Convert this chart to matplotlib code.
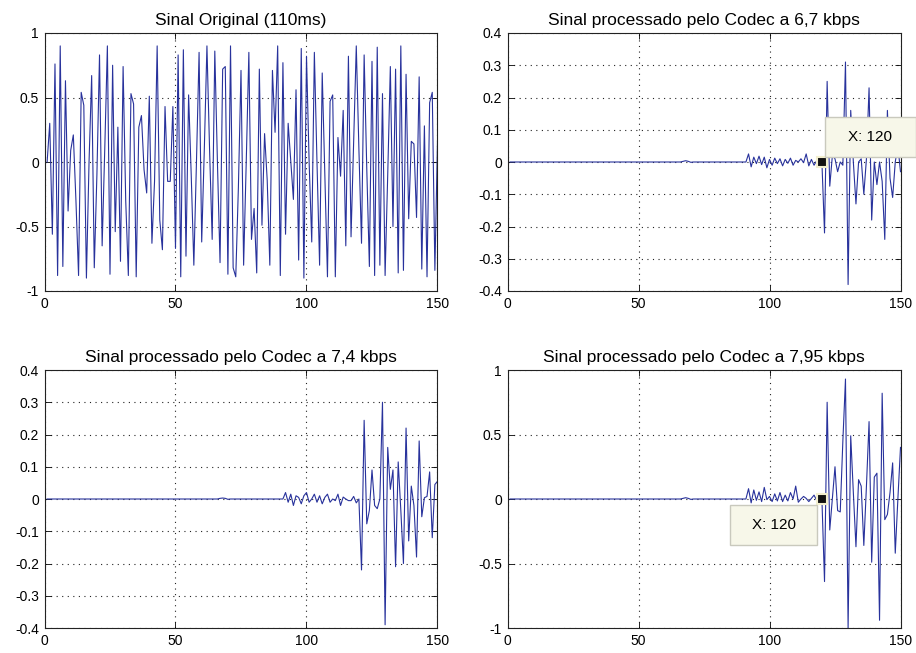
import numpy as np
import matplotlib
matplotlib.use("Agg")
import matplotlib.pyplot as plt
from matplotlib.patches import Rectangle

plt.rcParams['font.family'] = ['Liberation Sans', 'DejaVu Sans']
plt.rcParams['axes.unicode_minus'] = False

# ---------------- data ----------------
titles = ["Sinal Original (110ms)",
          "Sinal processado pelo Codec a 6,7 kbps",
          "Sinal processado pelo Codec a 7,4 kbps",
          "Sinal processado pelo Codec a 7,95 kbps"]

x_ticks = [0, 50, 100, 150]

original = [
    0.00, 0.30, -0.56, 0.76, -0.88, 0.90, -0.81, 0.63, -0.38, 0.09,
    0.21, -0.30, -0.88, 0.54, 0.44, -0.90, 0.00, 0.67, -0.82, -0.10,
    0.83, -0.65, 0.10, 0.90, -0.87, 0.75, -0.54, 0.27, -0.77, 0.74,
    -0.30, -0.88, 0.53, 0.45, -0.89, 0.27, 0.36, -0.06, -0.24, 0.51,
    -0.63, -0.15, 0.90, -0.45, -0.68, 0.43, -0.15, -0.15, 0.43, -0.67,
    0.83, -0.89, 0.87, -0.73, 0.52, -0.10, -0.80, 0.00, 0.85, -0.62,
    0.10, 0.90, 0.10, -0.60, 0.86, 0.00, -0.78, 0.72, 0.74, -0.87,
    0.90, -0.82, -0.89, -0.20, 0.71, -0.80, 0.00, 0.85, -0.60, -0.36,
    -0.86, 0.72, -0.49, 0.22, -0.14, -0.80, 0.71, 0.23, 0.90, -0.88,
    0.77, -0.56, 0.30, 0.00, -0.29, 0.56, -0.76, 0.88, -0.90, 0.82,
    0.00, -0.62, 0.85, 0.00, -0.80, 0.69, -0.10, -0.89, 0.47, 0.52,
    -0.89, 0.19, -0.11, 0.40, -0.65, 0.82, -0.58, 0.15, 0.90, 0.10,
    -0.63, 0.83, -0.05, -0.81, 0.78, -0.88, 0.89, -0.80, 0.53, -0.88,
    -0.10, 0.74, -0.50, 0.72, -0.86, 0.90, -0.84, 0.68, -0.44, 0.16,
    0.14, -0.43, 0.66, -0.83, 0.28, -0.89, 0.46, 0.54, -0.84, 0.16,
]

# codec outputs: samples 1..91 are (almost) silent
quiet_head_67 = [0.0] * 66 + [0.002, 0.004, 0.002, -0.001] + [0.0] * 21
quiet_head_74 = [0.0] * 66 + [0.002, 0.003, 0.002, -0.001] + [0.0] * 21
quiet_head_795 = [0.0] * 66 + [0.005, 0.010, 0.005, -0.003] + [0.0] * 21

codec_67_tail = [
    0.025, -0.015, 0.015, -0.005, 0.018, -0.008, 0.015, -0.018, 0.008, -0.010,   # 92-101
    0.012, -0.005, 0.010, -0.012, 0.008, -0.004, 0.012, -0.010, 0.005, 0.000,    # 102-111
    0.010, -0.002, 0.025, -0.012, 0.008, -0.010, 0.004, -0.002, 0.000,           # 112-120
    -0.22, 0.25, -0.075, 0.02, 0.01, -0.03, 0.00, -0.01, 0.31, -0.38,             # 121-130
    0.16, 0.00, -0.13, 0.00, 0.01, -0.10, 0.01, 0.23, -0.18, 0.00,                # 131-140
    -0.07, 0.00, -0.06, -0.24, 0.16, -0.05, -0.11, 0.00, 0.05, -0.03,             # 141-150
]

codec_74_tail = [
    0.020, -0.010, 0.015, -0.020, 0.010, 0.005, -0.015, 0.010, 0.020, -0.010,    # 92-101
    0.000, 0.015, -0.010, 0.010, -0.015, 0.005, 0.015, -0.010, 0.000, -0.005,    # 102-111
    0.015, -0.020, 0.006, 0.000, -0.005, -0.005, 0.008, -0.012, 0.000,           # 112-120
    -0.22, 0.244, -0.077, -0.035, 0.09, -0.02, -0.03, 0.00, 0.30, -0.39,          # 121-130
    0.16, 0.03, 0.09, -0.21, 0.115, -0.035, -0.20, 0.22, -0.13, 0.04,             # 131-140
    -0.02, -0.18, 0.18, -0.055, 0.004, 0.008, 0.084, -0.12, 0.045, 0.055,         # 141-150
]

codec_795_tail = [
    0.080, -0.030, 0.070, -0.010, 0.055, -0.020, 0.090, -0.005, 0.020, -0.020,   # 92-101
    0.040, -0.015, 0.050, -0.020, 0.030, -0.015, 0.050, 0.000, 0.100, -0.025,    # 102-111
    0.000, 0.020, 0.005, -0.020, 0.005, 0.030, -0.010, 0.010, 0.000,             # 112-120
    -0.64, 0.75, -0.24, 0.00, 0.25, -0.09, -0.10, 0.45, 0.93, -1.00,              # 121-130
    0.49, 0.05, -0.37, 0.15, 0.10, -0.36, 0.10, 0.60, -0.49, 0.17,                # 131-140
    0.20, -0.94, 0.82, -0.16, -0.12, 0.05, 0.28, -0.42, 0.00, 0.40,               # 141-150
]

codec_67 = quiet_head_67 + codec_67_tail
codec_74 = quiet_head_74 + codec_74_tail
codec_795 = quiet_head_795 + codec_795_tail

series = [original, codec_67, codec_74, codec_795]
ylims = [(-1, 1), (-0.4, 0.4), (-0.4, 0.4), (-1, 1)]
yticks = [[-1, -0.5, 0, 0.5, 1],
          [-0.4, -0.3, -0.2, -0.1, 0, 0.1, 0.2, 0.3, 0.4],
          [-0.4, -0.3, -0.2, -0.1, 0, 0.1, 0.2, 0.3, 0.4],
          [-1, -0.5, 0, 0.5, 1]]

tip_x = 120
tip_label = "X: 120"

# ---------------- figure ----------------
W, H = 916, 653
fig = plt.figure(figsize=(W / 100, H / 100), dpi=100)

def fbox(l, t, r, b):
    return [l / W, 1 - b / H, (r - l) / W, (b - t) / H]

boxes = [fbox(44.5, 33, 437.5, 291), fbox(507.5, 33, 900.5, 291),
         fbox(44.5, 370, 437.5, 628), fbox(507.5, 370, 900.5, 628)]

line_color = '#28329c'

def fmt(v):
    if abs(v - round(v)) < 1e-9:
        return "%d" % round(v)
    s = ("%.2f" % v).rstrip('0')
    return s

axes = []
for i in range(4):
    ax = fig.add_axes(boxes[i])
    y = series[i]
    n = np.arange(1, len(y) + 1)
    ax.plot(n, y, color=line_color, linewidth=0.8)
    ax.set_xlim(0, 150)
    ax.set_ylim(*ylims[i])
    ax.set_xticks(x_ticks)
    ax.set_xticklabels([str(t) for t in x_ticks])
    ax.set_yticks(yticks[i])
    ax.set_yticklabels([fmt(t) for t in yticks[i]])
    ax.tick_params(direction='in', length=4, width=0.6, top=True, right=True,
                   labelsize=10, pad=4, colors='black')
    ax.grid(True, color='#222222', linestyle=(0, (1, 4)), linewidth=0.8)
    for sp in ax.spines.values():
        sp.set_linewidth(0.8)
        sp.set_color('#222222')
    ax.set_title(titles[i], fontsize=12.5, pad=6)
    axes.append(ax)

# data tip markers
for k in (1, 3):
    ax = axes[k]
    yv = series[k][tip_x - 1]
    ax.plot([tip_x], [yv], marker='s', markersize=7, color='#111111',
            markeredgecolor='#f3efcf', markeredgewidth=1.5, zorder=5)

# data tip boxes (figure pixel coordinates)
def tipbox(l, t, r, b):
    rect = Rectangle((l / W, 1 - b / H), (r - l) / W, (b - t) / H,
                     transform=fig.transFigure, facecolor='#f7f7e9',
                     edgecolor='#c9c9bd', linewidth=1.0, zorder=10)
    fig.patches.append(rect)
    fig.text((l + r) / 2 / W, 1 - (t + b) / 2 / H, tip_label, ha='center',
             va='center', fontsize=11, zorder=11)

tipbox(825, 117, 916, 157)
tipbox(730, 505, 817, 545)

fig.savefig("out.png", dpi=100)
